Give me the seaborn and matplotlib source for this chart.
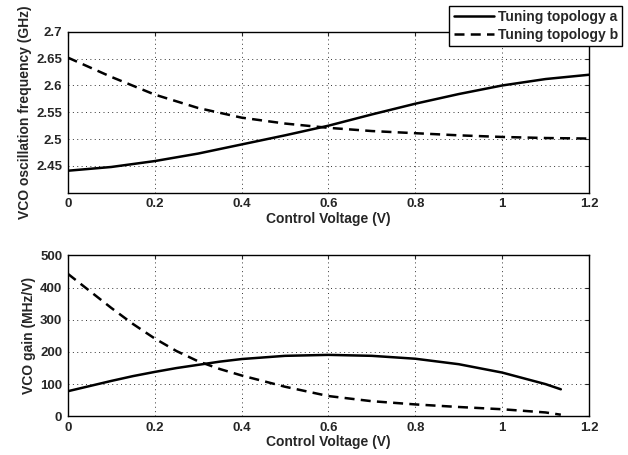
import matplotlib
matplotlib.use("Agg")
import matplotlib.pyplot as plt
import seaborn as sns
import pandas as pd

# top panel: oscillation frequency (GHz)
v_freq = [0.0, 0.1, 0.2, 0.3, 0.4, 0.5, 0.6, 0.7, 0.8, 0.9, 1.0, 1.1, 1.2]
freq_a = [2.441, 2.448, 2.459, 2.473, 2.490, 2.507, 2.525, 2.546, 2.566, 2.584, 2.600, 2.612, 2.620]
freq_b = [2.652, 2.616, 2.583, 2.558, 2.540, 2.529, 2.521, 2.515, 2.511, 2.507, 2.504, 2.502, 2.501]

# bottom panel: VCO gain (MHz/V)
v_gain = [0.0, 0.05, 0.1, 0.15, 0.2, 0.25, 0.3, 0.35, 0.4, 0.5, 0.6, 0.7, 0.8, 0.9, 1.0, 1.1, 1.135]
gain_a = [78, 94, 110, 125, 138, 150, 160, 170, 178, 188, 191, 188, 179, 162, 136, 100, 84]
gain_b = [443, 390, 337, 287, 242, 203, 171, 147, 127, 92, 63, 47, 37, 29, 22, 12, 5]

labels = ["Tuning topology a", "Tuning topology b"]

sns.set_style("white")
plt.rcParams['font.family'] = ['Liberation Sans', 'DejaVu Sans']
plt.rcParams['font.weight'] = 'bold'
plt.rcParams['font.size'] = 10

fig, (ax1, ax2) = plt.subplots(2, 1, figsize=(6.28, 4.55), dpi=100)
fig.subplots_adjust(left=0.108, right=0.938, top=0.93, bottom=0.085, hspace=0.39)

df_f = pd.DataFrame({"v": v_freq * 2, "val": freq_a + freq_b,
                     "series": [labels[0]] * len(v_freq) + [labels[1]] * len(v_freq)})
df_g = pd.DataFrame({"v": v_gain * 2, "val": gain_a + gain_b,
                     "series": [labels[0]] * len(v_gain) + [labels[1]] * len(v_gain)})

for ax, df in [(ax1, df_f), (ax2, df_g)]:
    sns.lineplot(data=df, x="v", y="val", hue="series", style="series",
                 palette=["black", "black"], dashes=[(None, None), (4, 2.5)],
                 linewidth=1.8, ax=ax, legend=False)
    ax.set_xlim(0, 1.2)
    ax.set_xticks([0, 0.2, 0.4, 0.6, 0.8, 1.0, 1.2])
    ax.set_xticklabels(["0", "0.2", "0.4", "0.6", "0.8", "1", "1.2"])
    ax.set_xlabel("Control Voltage (V)", fontweight='bold', fontsize=10, labelpad=1)
    ax.grid(True, linestyle=(0, (1, 3.5)), color='#333333', linewidth=0.7)
    ax.tick_params(direction='in', length=3, top=True, right=True, pad=4, labelsize=9.5)
    for s in ax.spines.values():
        s.set_color('black')
        s.set_linewidth(1.0)

ax1.set_ylim(2.4, 2.7)
ax1.set_yticks([2.45, 2.5, 2.55, 2.6, 2.65, 2.7])
ax1.set_yticklabels(["2.45", "2.5", "2.55", "2.6", "2.65", "2.7"])
ax1.set_ylabel("VCO oscillation frequency (GHz)", fontweight='bold', fontsize=10, labelpad=3)

ax2.set_ylim(0, 500)
ax2.set_yticks([0, 100, 200, 300, 400, 500])
ax2.set_ylabel("VCO gain (MHz/V)", fontweight='bold', fontsize=10, labelpad=3)

handles = ax1.get_lines()[:2]
leg = fig.legend(handles, labels, loc='upper right', bbox_to_anchor=(1.002, 1.002),
                 fancybox=False, framealpha=1, edgecolor='black', borderpad=0.3,
                 handlelength=2.9, handletextpad=0.3, labelspacing=0.25, fontsize=10)
leg.get_frame().set_linewidth(1.0)

fig.savefig("out.png", dpi=100)
